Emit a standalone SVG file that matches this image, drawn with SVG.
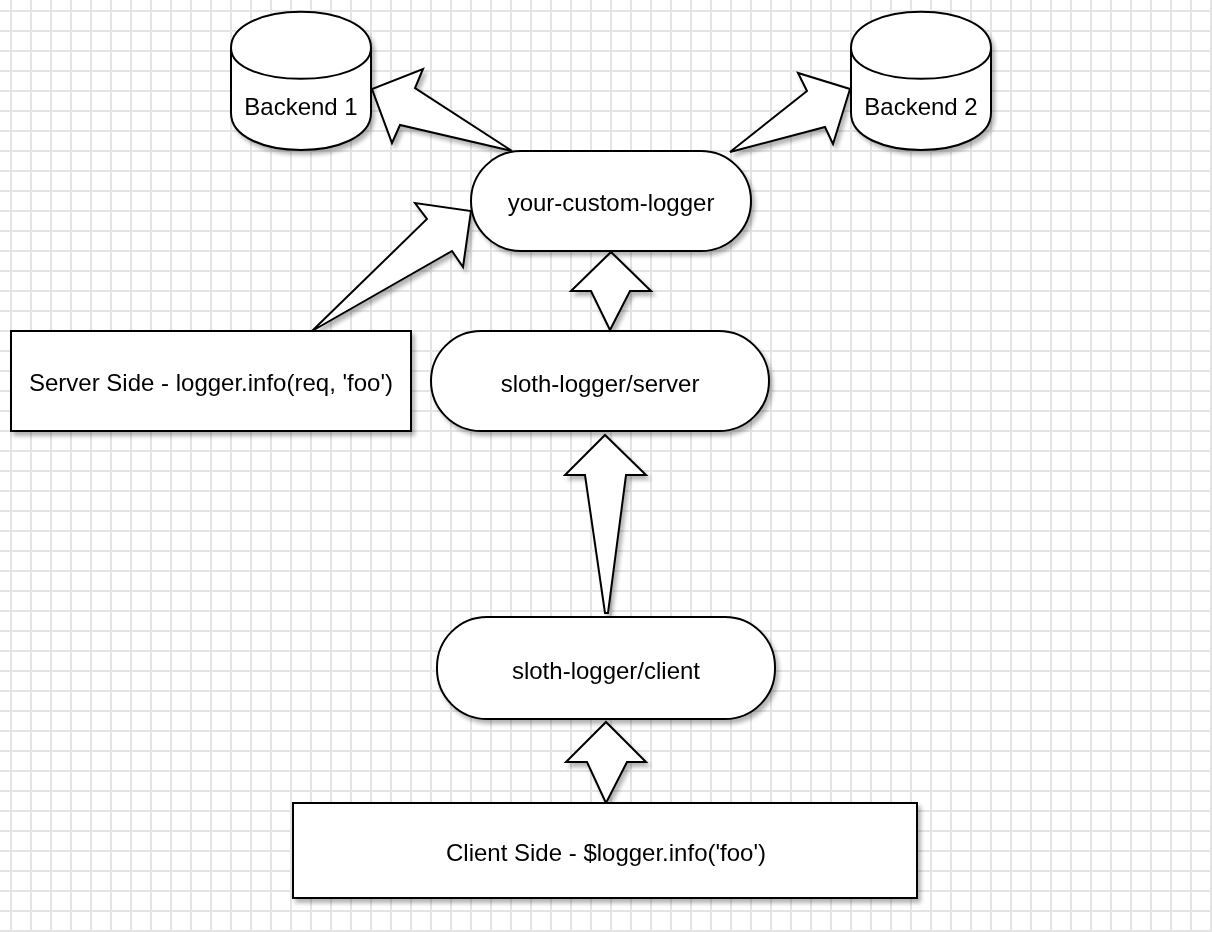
<svg xmlns="http://www.w3.org/2000/svg" width="1212" height="932" viewBox="0 0 1212 932">
<defs>
<pattern id="grid" x="0" y="0" width="20" height="20" patternUnits="userSpaceOnUse" patternTransform="translate(1,1)">
<rect x="0" y="0" width="20" height="20" fill="#ffffff"/>
<rect x="9" y="0" width="2" height="20" fill="#e4e4e4"/>
<rect x="0" y="9" width="20" height="2" fill="#e4e4e4"/>
</pattern>
<filter id="shadow" x="-10%" y="-10%" width="130%" height="140%">
<feGaussianBlur in="SourceAlpha" stdDeviation="2"/>
<feOffset dx="3" dy="4" result="b"/>
<feComponentTransfer><feFuncA type="linear" slope="0.3"/></feComponentTransfer>
<feMerge><feMergeNode/><feMergeNode in="SourceGraphic"/></feMerge>
</filter>
</defs>
<style>
.s{fill:#ffffff;stroke:#000000;stroke-width:2;stroke-linejoin:miter}
.t{font-family:"Liberation Sans",Arial,Helvetica,sans-serif;font-size:24px;fill:#000000;text-anchor:middle}
</style>
<rect x="0" y="0" width="1212" height="932" fill="url(#grid)"/>
<g id="connectors" filter="url(#shadow)">
<polygon class="s" points="512,151 415,88 423,69 372,89 392,143 400,125"/>
<polygon class="s" points="730,152 807,91 798,73 850,89 833,144 825,127"/>
<polygon class="s" points="312,331 427,219 415,203 471,211 463,267 452,251"/>
<polygon class="s" points="610,330 591,291 571,291 611,252 651,291 630,291"/>
<polygon class="s" points="605,613 608,613 626,475 646,475 605,435 565,475 585,475"/>
<polygon class="s" points="606,803 587,762 566,762 606,722 646,762 627,762"/>
</g>
<g id="backend1" filter="url(#shadow)">
<path class="s" d="M231,48 C231,-0.3 371,-0.3 371,48 L371,113 C371,162.3 231,162.3 231,113 Z"/>
<path class="s" d="M231,48 C231,89 371,89 371,48" fill="none"/>
<text class="t" x="301" y="115">Backend 1</text>
</g>
<g id="backend2" filter="url(#shadow)">
<path class="s" d="M851,48 C851,-0.3 991,-0.3 991,48 L991,113 C991,162.3 851,162.3 851,113 Z"/>
<path class="s" d="M851,48 C851,89 991,89 991,48" fill="none"/>
<text class="t" x="921" y="115">Backend 2</text>
</g>
<g id="your-custom-logger" filter="url(#shadow)">
<rect class="s" x="471" y="151" width="280" height="100" rx="50" ry="50"/>
<text class="t" x="611" y="211">your-custom-logger</text>
</g>
<g id="sloth-logger-server" filter="url(#shadow)">
<rect class="s" x="431" y="331" width="338" height="100" rx="50" ry="50"/>
<text class="t" x="600" y="392">sloth-logger/server</text>
</g>
<g id="sloth-logger-client" filter="url(#shadow)">
<rect class="s" x="437" y="617" width="338" height="102" rx="50" ry="50"/>
<text class="t" x="606" y="679">sloth-logger/client</text>
</g>
<g id="server-side" filter="url(#shadow)">
<rect class="s" x="11" y="331" width="400" height="100"/>
<text class="t" x="211" y="391">Server Side - logger.info(req, 'foo')</text>
</g>
<g id="client-side" filter="url(#shadow)">
<rect class="s" x="293" y="803" width="624" height="95"/>
<text class="t" x="606" y="861">Client Side - $logger.info('foo')</text>
</g>
</svg>
